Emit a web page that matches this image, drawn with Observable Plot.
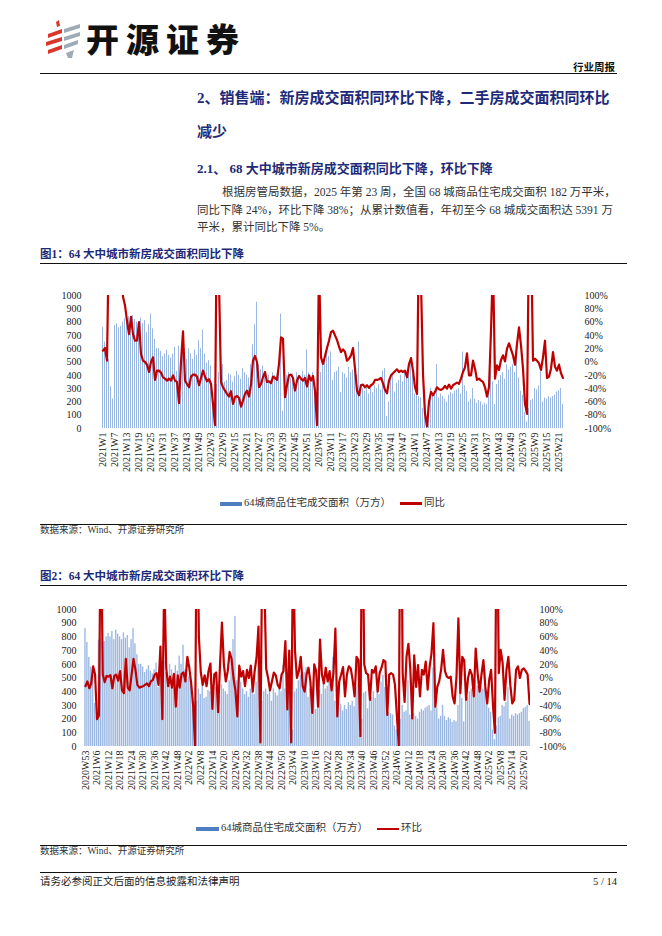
<!DOCTYPE html>
<html><head><meta charset="utf-8">
<script src="https://cdn.jsdelivr.net/npm/d3@7"></script>
<script src="https://cdn.jsdelivr.net/npm/@observablehq/plot@0.6"></script>
<style>
body{margin:0;background:#fff;}
#page{position:relative;width:662px;height:936px;overflow:hidden;background:#fff;font-family:"Liberation Serif","Noto Sans CJK SC",serif;color:#222;}
.a{position:absolute;white-space:nowrap;line-height:1;}
.rule{position:absolute;background:#111;}
.navy{color:#1e2a78;font-weight:bold;}
.para{position:absolute;font-size:11.5px;line-height:1;color:#333;text-align:justify;text-align-last:justify;white-space:nowrap;}
.chart{position:absolute;left:0;}
.leg{position:absolute;font-size:10.5px;line-height:1;color:#333;white-space:nowrap;}
</style></head><body><div id="page">

<svg class="a" style="left:44px;top:18px" width="40" height="42" viewBox="0 0 40 42">
  <polygon points="12,4 15,2 16,8 13,9" fill="#d9372b"/>
  <polygon points="4,16 18,11 18,15 4,20" fill="#d9372b"/>
  <polygon points="2,24 18,19 18,23 2,28" fill="#d9372b"/>
  <polygon points="4,32 18,27 18,31 4,36" fill="#d9372b"/>
  <polygon points="20,11 36,6 36,10 20,15" fill="#9eacb8"/>
  <polygon points="20,19 36,14 36,18 20,23" fill="#9eacb8"/>
  <polygon points="20,27 34,22 34,26 20,31" fill="#9eacb8"/>
  <polygon points="22,35 30,32 28,40 24,40" fill="#9eacb8"/>
</svg>
<div class="a" style="left:86px;top:22px;font-family:'Noto Sans CJK SC';font-weight:900;font-size:33px;letter-spacing:7px;color:#111;">开源证券</div>
<div class="a" style="right:47px;top:61.5px;font-family:'Noto Sans CJK SC';font-weight:bold;font-size:10.5px;color:#111;">行业周报</div>
<div class="rule" style="left:40px;top:73px;width:577px;height:1.3px;"></div>

<div class="a navy" style="left:197px;top:90.5px;font-size:15px;">2、销售端：新房成交面积同环比下降，二手房成交面积同环比</div>
<div class="a navy" style="left:197px;top:124.5px;font-size:15px;">减少</div>
<div class="a navy" style="left:197px;top:161.5px;font-size:13px;">2.1、 68 大中城市新房成交面积同比下降，环比下降</div>

<div class="para" style="left:222px;top:187px;width:391px;">根据房管局数据，2025 年第 23 周，全国 68 城商品住宅成交面积 182 万平米，</div>
<div class="para" style="left:197px;top:205px;width:416px;">同比下降 24%，环比下降 38%；从累计数值看，年初至今 68 城成交面积达 5391 万</div>
<div class="para" style="left:197px;top:222px;text-align-last:left;">平米，累计同比下降 5%。</div>

<div class="a navy" style="left:40px;top:249px;font-size:11.5px;">图1：64 大中城市新房成交面积同比下降</div>
<div class="rule" style="left:40px;top:263px;width:587px;height:1px;"></div>
<div id="c1" class="chart" style="top:280px;"></div>
<div class="leg" style="left:220px;top:498px;"><span style="display:inline-block;width:22px;height:4px;background:#4f7fc0;vertical-align:middle;margin-right:2px;"></span>64城商品住宅成交面积（万方）</div>
<div class="leg" style="left:400px;top:498px;"><span style="display:inline-block;width:22px;height:2.5px;background:#c00000;vertical-align:middle;margin-right:2px;"></span>同比</div>
<div class="rule" style="left:40px;top:524px;width:587px;height:1px;"></div>
<div class="leg" style="left:40px;top:526px;font-size:9.5px;">数据来源：Wind、开源证券研究所</div>

<div class="a navy" style="left:40px;top:571px;font-size:11.5px;">图2：64 大中城市新房成交面积环比下降</div>
<div class="rule" style="left:40px;top:585px;width:587px;height:1px;"></div>
<div id="c2" class="chart" style="top:595px;"></div>
<div class="leg" style="left:196px;top:823px;"><span style="display:inline-block;width:23px;height:4px;background:#4f7fc0;vertical-align:middle;margin-right:2px;"></span>64城商品住宅成交面积（万方）</div>
<div class="leg" style="left:377px;top:823px;"><span style="display:inline-block;width:22px;height:2px;background:#c00000;vertical-align:middle;margin-right:2px;"></span>环比</div>
<div class="rule" style="left:40px;top:845px;width:587px;height:1px;"></div>
<div class="leg" style="left:40px;top:847px;font-size:9.5px;">数据来源：Wind、开源证券研究所</div>

<div class="rule" style="left:40px;top:872px;width:577px;height:1.3px;"></div>
<div class="leg" style="left:40px;top:877px;font-size:10.5px;color:#222;">请务必参阅正文后面的信息披露和法律声明</div>
<div class="leg" style="right:45px;top:877px;font-size:10.5px;color:#222;">5 / 14</div>
</div>
<script>
// Weekly 64-city new-home transaction area (万方), starting 2020W53
const areaWeekly = [860,
760,650,580,520,315,222,775,787,757,767,800,825,800,840,780,850,820,800,780,830,790,810,720,780,860,750,670,600,600,580,540,560,590,550,530,560,610,430,620,250,620,540,520,600,560,520,590,550,660,600,740,560,
490,510,470,280,130,330,420,380,480,350,360,410,400,350,390,430,400,370,450,420,400,380,480,630,780,950,480,440,470,420,380,400,360,420,400,380,470,860,130,330,400,420,380,410,330,420,390,370,430,400,590,420,
350,420,300,120,400,420,480,520,560,540,575,360,420,430,460,270,420,410,380,460,420,440,510,400,650,330,300,280,310,260,300,270,320,300,330,290,430,450,90,200,390,400,275,340,360,400,350,420,380,470,520,430,
260,250,240,230,150,120,30,200,300,250,260,480,230,260,240,220,200,250,270,260,280,290,300,260,575,320,280,200,220,300,220,190,210,200,175,190,180,300,430,350,180,330,360,400,420,370,480,440,460,480,420,560,
380,280,250,120,50,150,210,220,300,290,320,430,200,230,220,240,230,240,250,275,285,300,182];

// YoY (%) starting 2021W1
const yoy = [17,21,2,200,600,800,500,300,250,150,
98,85,62,42,68,42,32,32,60,12,
2,0,-4,-15,0,7,-27,-13,-13,-16,
-23,-25,-28,-25,-28,-20,-28,-30,-62,0,
46,-28,-33,-38,-22,-19,-19,-22,-35,-24,
-13,-22,-29,-26,-33,-63,-95,250,120,-30,
-38,-43,-48,-52,-44,-63,-53,-51,-54,-67,
-58,-48,-43,-52,-34,2,9,0,-38,-33,
-23,-15,-30,-29,-32,-22,-24,-27,-3,37,
35,-53,-35,-20,-19,-24,-43,-28,-21,-25,
-28,-24,-37,-20,-28,-21,-43,-95,150,7,
-3,9,21,32,45,47,40,33,23,15,
19,15,2,5,10,21,-10,-43,-50,-35,
-34,-38,-35,-39,-35,-33,-27,-27,-26,-24,
-32,-42,-47,-28,-20,-17,-14,-11,-15,-13,
-15,-13,-23,-3,6,-13,-38,-48,200,120,
-18,-78,-97,-60,-45,-50,-45,-38,-41,-42,
-40,-36,-40,-34,-40,-35,-33,-31,-33,-25,
-15,-8,13,-20,-20,2,-10,-27,-25,-28,
-30,-38,-52,-38,47,150,-25,-5,-12,3,
10,1,20,28,19,10,-4,27,52,25,
-10,-63,-78,200,200,2,5,2,-2,-12,
7,32,-24,-22,-10,15,-7,-13,-4,-17,
-24];

// WoW (%) starting 2020W53
const wow = [-12,-5,-15,-8,17,5,-60,-55,250,5,
-6,3,2,4,-15,3,5,-4,10,-18,
-22,28,-14,-18,5,28,12,-10,-14,-13,
-12,-10,-8,-12,-5,-3,5,7,-10,46,
-60,150,15,-12,2,-14,6,-42,4,-14,
6,8,-5,31,15,-8,-40,-100,300,60,
8,-10,4,-12,10,21,-45,5,8,-50,
20,81,20,-5,10,38,28,0,-18,-56,
18,2,10,-12,12,0,18,-20,10,30,
75,-94,200,150,14,0,-18,-5,8,4,
-10,-15,5,10,54,-46,40,-94,200,40,
0,10,31,-12,-20,5,15,-5,-51,20,
10,-42,56,5,-8,15,-5,10,-18,7,
72,-56,-5,5,16,-27,5,17,14,-3,
-27,31,26,-85,300,20,7,5,-32,12,
8,17,-20,7,15,26,24,-54,5,7,
5,-10,-55,-100,400,7,-35,31,50,12,
-59,33,-13,19,-27,12,5,24,-17,16,
36,80,-42,-13,-5,12,41,10,2,0,
2,-27,-37,2,87,-22,31,26,-32,0,
12,5,-27,43,7,-20,5,26,-13,-37,
-3,12,-40,-80,300,7,41,22,-32,12,
31,-10,-37,-32,12,17,0,12,14,10,
5,-38];

const ticks1 = ["2021W1","2021W7","2021W13","2021W19","2021W25","2021W31","2021W37","2021W43","2021W49","2022W3","2022W9","2022W15","2022W21","2022W27","2022W33","2022W39","2022W45","2022W51","2023W5","2023W11","2023W17","2023W23","2023W29","2023W35","2023W41","2023W47","2024W1","2024W7","2024W13","2024W19","2024W25","2024W31","2024W37","2024W43","2024W49","2025W3","2025W9","2025W15","2025W21"];
const ticks2 = ["2020W53","2021W6","2021W12","2021W18","2021W24","2021W30","2021W36","2021W42","2021W48","2022W2","2022W8","2022W14","2022W20","2022W26","2022W32","2022W38","2022W44","2022W50","2023W4","2023W10","2023W16","2023W22","2023W28","2023W34","2023W40","2023W46","2023W52","2024W6","2024W12","2024W18","2024W24","2024W30","2024W36","2024W42","2024W48","2025W2","2025W8","2025W14","2025W20"];

// week categories
const weeks2 = ["2020W53"];
for (const yr of [2021, 2022, 2023, 2024]) for (let w = 1; w <= 52; w++) weeks2.push(yr + "W" + w);
for (let w = 1; w <= 23; w++) weeks2.push("2025W" + w);
const weeks1 = weeks2.slice(1);

function makeChart({weeks, bars, line, ticks, height, ml, mr, mt, mb, padL, padR}) {
  const dataB = weeks.map((w, k) => ({w, v: bars[k]}));
  const dataL = weeks.map((w, k) => ({w, p: line[k]}));
  return Plot.plot({
    width: 662, height,
    marginLeft: ml, marginRight: mr, marginTop: mt, marginBottom: mb,
    style: {fontFamily: "'Liberation Serif', serif", fontSize: "10px", color: "#222", background: "transparent", overflow: "visible"},
    x: {type: "band", domain: weeks, paddingInner: 0.3, paddingOuter: 0.15, align: 0.5},
    y: {domain: [0, 1000]},
    marks: [
      Plot.barY(dataB, {x: "w", y: "v", fill: "#9ab7e2"}),
      Plot.lineY(dataL, {x: "w", y: d => (d.p + 100) * 5, stroke: "#c00000", strokeWidth: 2.2, clip: true, strokeLinejoin: "round"}),
      Plot.axisY({ticks: d3.range(0, 1001, 100), tickSize: 0, tickPadding: padL, anchor: "left", label: null, tickFormat: d => String(d)}),
      Plot.axisY({ticks: d3.range(0, 1001, 100), tickSize: 0, tickPadding: padR, anchor: "right", label: null, tickFormat: d => (d / 5 - 100) + "%"}),
      Plot.axisX({ticks, tickRotate: -90, tickSize: 0, tickPadding: 4, label: null})
    ]
  });
}

document.getElementById("c1").append(makeChart({weeks: weeks1, bars: areaWeekly.slice(1), line: yoy, ticks: ticks1, height: 210, ml: 89, mr: 86, mt: 15, mb: 62, padL: 8, padR: 8}));
document.getElementById("c2").append(makeChart({weeks: weeks2, bars: areaWeekly, line: wow, ticks: ticks2, height: 211, ml: 84, mr: 132, mt: 14, mb: 60, padL: 8, padR: 9}));
</script>
</body></html>
